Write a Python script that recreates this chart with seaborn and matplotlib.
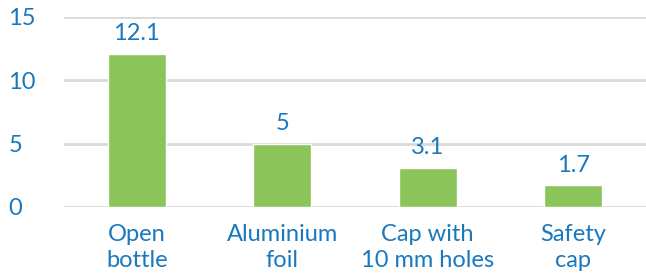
import pandas as pd
import seaborn as sns
import matplotlib.pyplot as plt

# Chart data
categories = ["Open\nbottle", "Aluminium\nfoil", "Cap with\n10 mm holes", "Safety\ncap"]
values = [12.1, 5, 3.1, 1.7]
value_labels = ["12.1", "5", "3.1", "1.7"]
yticks = [0, 5, 10, 15]

df = pd.DataFrame({"category": categories, "value": values})

green = "#8BC55A"
blue = "#1A78BE"

sns.set_style("white")
plt.rcParams["font.family"] = ["Lato", "DejaVu Sans"]

fig = plt.figure(figsize=(6.46, 2.74), dpi=100)
ax = fig.add_axes([0.099, 0.245, 0.901, 0.693])

sns.barplot(data=df, x="category", y="value", color=green, width=0.4,
            saturation=1, ax=ax, zorder=3)

# Value labels above bars
for bar, lab in zip(ax.patches, value_labels):
    ax.text(bar.get_x() + bar.get_width() / 2, bar.get_height() + 0.75, lab,
            ha="center", va="bottom", color=blue, fontsize=17)

ax.set_ylim(0, 15)
ax.set_yticks(yticks)
ax.yaxis.grid(True, color="#D9D9D9", linewidth=2)
ax.set_axisbelow(True)
for s in ax.spines.values():
    s.set_visible(False)

ax.tick_params(axis="both", length=0, labelsize=17, labelcolor=blue)
ax.tick_params(axis="y", pad=40)
ax.tick_params(axis="x", pad=12)
for t in ax.get_yticklabels():
    t.set_horizontalalignment("left")
for t in ax.get_xticklabels():
    t.set_linespacing(1.3)
ax.set_xlabel("")
ax.set_ylabel("")

fig.savefig("out.png", dpi=100)
